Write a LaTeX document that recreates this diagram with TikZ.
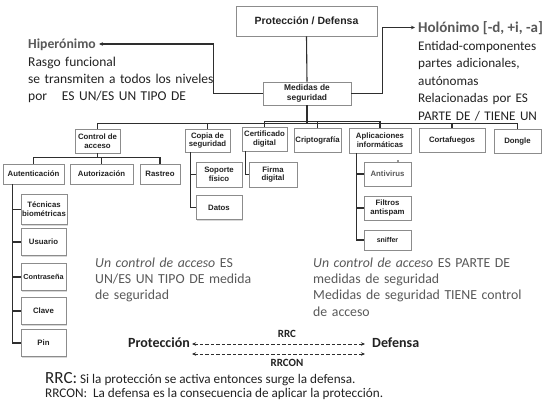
\documentclass[tikz,border=0pt]{standalone}
\usepackage{fontspec}
\setmainfont{Carlito}
\newfontfamily\bxf{Liberation Sans}
\usetikzlibrary{shadows,arrows.meta,calc}
\definecolor{tgray}{HTML}{595959}
\definecolor{tdark}{HTML}{222222}
\definecolor{lnc}{HTML}{2E2E2E}
\definecolor{bxb}{HTML}{8C8C8C}
\begin{document}
\begin{tikzpicture}[x=1pt,y=-1pt,
  bx/.style={draw=bxb, fill=white, line width=0.6pt,
    drop shadow={shadow xshift=1.3pt,shadow yshift=-1.3pt,fill=black!30},
    align=center, inner sep=0.5pt, text=tdark,
    font=\bxf\bfseries\fontsize{7.8}{8.8}\selectfont},
  conn/.style={draw=lnc, line width=1.1pt},
  txt/.style={anchor=base west, inner sep=0pt, align=left},
  dsh/.style={draw=lnc, line width=0.9pt, dash pattern=on 3.5pt off 2pt,
    {Stealth[length=4pt,width=3.5pt]}-{Stealth[length=4pt,width=3.5pt]}},
  tip/.style={-{Stealth[length=4pt,width=3.5pt]}}
]
\useasboundingbox[fill=white] (0,0) rectangle (550,418);

% ---- top boxes
\node[bx, minimum width=141pt, minimum height=30pt,
  font=\bxf\bfseries\fontsize{10.5}{12}\selectfont] (prot) at (306.5,21) {Protección / Defensa};
\node[bx, minimum width=88pt, minimum height=23pt,
  font=\bxf\bfseries\fontsize{8.4}{9.4}\selectfont] (med) at (307,93.5) {Medidas de\\seguridad};

% ---- level 1
\node[bx, minimum width=45pt, minimum height=24pt] (ctrl) at (97.5,141) {Control de\\acceso};
\node[bx, minimum width=45pt, minimum height=23pt] (copia) at (207.5,140.5) {Copia de\\seguridad};
\node[bx, minimum width=45pt, minimum height=24pt] (cert) at (264.5,139) {Certificado\\digital};
\node[bx, minimum width=47pt, minimum height=24pt] (cripto) at (317.5,140) {Criptografía};
\node[bx, minimum width=62pt, minimum height=25pt] (apl) at (380,140.5) {Aplicaciones\\informáticas};
\node[bx, minimum width=66pt, minimum height=24pt] (corta) at (452,140) {Cortafuegos};
\node[bx, minimum width=47pt, minimum height=24pt] (dongle) at (517.5,141) {Dongle};

% ---- level 2
\node[bx, minimum width=61pt, minimum height=20pt] (aut) at (33.5,174) {Autenticación};
\node[bx, minimum width=63pt, minimum height=20pt] (autz) at (101.5,174) {Autorización};
\node[bx, minimum width=40pt, minimum height=20pt] (rast) at (160,174) {Rastreo};

\node[bx, minimum width=46pt, minimum height=30pt] (tec) at (44,209.5) {Técnicas\\biométricas};
\node[bx, minimum width=45pt, minimum height=27pt] (usu) at (43.5,242) {Usuario};
\node[bx, minimum width=45pt, minimum height=27pt,
  font=\bxf\bfseries\fontsize{7.3}{8.5}\selectfont] (contra) at (43.5,277) {Contraseña};
\node[bx, minimum width=45pt, minimum height=27pt] (clave) at (43.5,311) {Clave};
\node[bx, minimum width=45pt, minimum height=27pt] (pin) at (43.5,343) {Pin};

\node[bx, minimum width=46pt, minimum height=25pt] (sop) at (219,174.5) {Soporte\\físico};
\node[bx, minimum width=46pt, minimum height=24pt] (datos) at (219,207.5) {Datos};
\node[bx, minimum width=48pt, minimum height=25pt] (firma) at (273,174.5) {Firma\\digital};

\node[bx, minimum width=47pt, minimum height=24pt, text=tgray] (anti) at (387.5,174) {Antivirus};
\node[bx, minimum width=47pt, minimum height=24pt] (filt) at (387.5,208) {Filtros\\antispam};
\node[bx, minimum width=47pt, minimum height=20pt,
  font=\bxf\bfseries\fontsize{7}{8}\selectfont] (snif) at (387.5,240) {sniffer};
\fill[lnc] (398,161) circle (0.8);

% ---- side texts
\node[txt, text=tgray, font=\bfseries\fontsize{13.7}{17}\selectfont] (hiper) at (28,48.5) {Hiperónimo};
\node[txt, text=tdark, text width=200pt, font=\fontsize{13.5}{17}\selectfont] (hipertxt) at (28,66)
  {Rasgo funcional\\se transmiten a todos los niveles\\por\hspace{1.1em}ES UN/ES UN TIPO DE};

\node[txt, text=tgray, font=\bfseries\fontsize{15}{18}\selectfont] (holo) at (418,32.5) {Holónimo [-d, +i, -a]};
\node[txt, text=tdark, text width=140pt, font=\fontsize{13.2}{17.6}\selectfont] (holotxt) at (418,50)
  {Entidad-componentes\\partes adicionales,\\autónomas\\Relacionadas por ES\\PARTE DE / TIENE UN};

\node[txt, text=tgray, text width=170pt, font=\fontsize{13.8}{16.4}\selectfont] (esun) at (95,267)
  {\textit{Un control de acceso} ES\\UN/ES UN TIPO DE medida\\de seguridad};
\node[txt, text=tgray, text width=230pt, font=\fontsize{13.8}{16.4}\selectfont] (parte) at (313,267)
  {\textit{Un control de acceso} ES PARTE DE\\medidas de seguridad\\Medidas de seguridad TIENE control\\de acceso};

% ---- bottom relation
\node[anchor=base east, inner sep=0pt, text=tdark, font=\bfseries\fontsize{14}{16}\selectfont] (pbot) at (190,347) {Protección};
\node[anchor=base west, inner sep=0pt, text=tdark, font=\bfseries\fontsize{14}{16}\selectfont] (dbot) at (372,347) {Defensa};
\node[anchor=base, inner sep=0pt, text=tdark, font=\bfseries\fontsize{11}{13}\selectfont] (rrc) at (287,337) {RRC};
\node[anchor=base, inner sep=0pt, text=tdark, font=\bfseries\fontsize{11}{13}\selectfont] (rrcon) at (287,366) {RRCON};
\draw[dsh] ($(pbot.base east)+(2,-3)$) -- ($(dbot.base west)+(-7,-3)$);
\draw[dsh] ($(pbot.base east)+(2,7)$) -- ($(dbot.base west)+(-7,7)$);

\node[anchor=base west, inner sep=0pt, text=tdark, font=\fontsize{13.2}{15}\selectfont] (def1) at (45,383)
  {{\fontsize{17}{18}\selectfont RRC:} Si la protección se activa entonces surge la defensa.};
\node[anchor=base west, inner sep=0pt, text=tdark, font=\fontsize{13.2}{15}\selectfont] (def2) at (45,397)
  {RRCON:\ \ La defensa es la consecuencia de aplicar la protección.};

% ---- connectors
\draw[conn] (prot.south) -- (med.north);
\draw[conn, tip] (med.west) -- ++(-49,0) |- ($(hiper.base east)+(3,-4.5)$);
\draw[conn, tip] (med.east) -- ++(31,0) |- ($(holo.base west)+(-3,-5)$);
\foreach \n in {ctrl,copia,corta,dongle}
  \draw[conn] (med.south) -- ++(0,18) -| (\n.north);
\foreach \n in {cert,cripto,apl}
  \draw[conn] (med.south) -- ++(0,16.5) -| (\n.north);
\foreach \n in {aut,autz,rast}
  \draw[conn] (ctrl.south) -- ++(0,4) -| (\n.north);
\foreach \n in {tec,usu,contra,clave,pin}
  \draw[conn] ([xshift=10pt]aut.south west) |- (\n.west);
\foreach \n in {sop,datos}
  \draw[conn] ([xshift=6pt]copia.south west) |- (\n.west);
\draw[conn] ([xshift=4pt]cert.south west) |- (firma.west);
\foreach \n in {anti,filt,snif}
  \draw[conn] ([xshift=8pt]apl.south west) |- (\n.west);
\end{tikzpicture}
\end{document}
